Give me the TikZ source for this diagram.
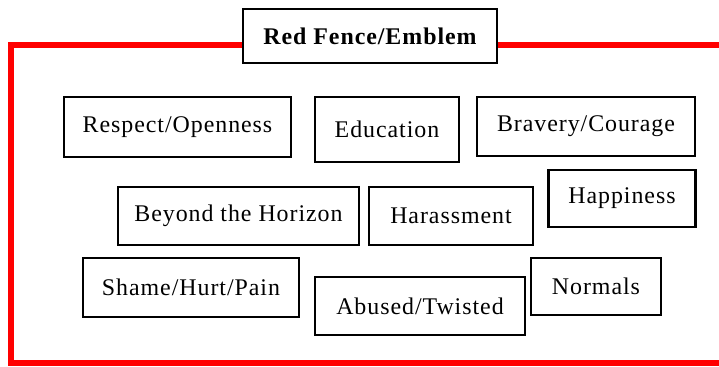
\documentclass[tikz,border=0pt]{standalone}
\usepackage{fontspec}
\setmainfont[LetterSpace=4]{Liberation Serif}
\usepackage{tikz}
\usetikzlibrary{positioning}
\tikzset{%
	tag/.style      = {draw, rectangle, line width=1.8pt, inner sep=0pt, font=\fontsize{17}{20}\selectfont, text centered},
	emblem/.style   = {tag, font=\fontsize{17}{20}\selectfont\bfseries},
	fence/.style    = {draw=red, line width=3.6pt, line join=miter},
}

\begin{document}
\begin{tikzpicture}[x=0.025cm,y=-0.025cm]
	\useasboundingbox (0,0) rectangle (719,367);
	\node [emblem, minimum width=6.35cm, minimum height=1.35cm] (emblem) at (370,36) {Red Fence/Emblem};
	
	\node [tag, minimum width=5.68cm, minimum height=1.5cm] (respect) at (177.5,127) {Respect/Openness};
	\node [tag, minimum width=3.6cm, minimum height=1.62cm] (education) at (387,129.5) {Education};
	\node [tag, minimum width=5.45cm, minimum height=1.48cm] (bravery) at (586,126.5) {Bravery/Courage};
	\node [tag, minimum width=6.02cm, minimum height=1.45cm] (horizon) at (238.5,216) {Beyond the Horizon};
	\node [tag, minimum width=4.1cm, minimum height=1.45cm] (harassment) at (451,216) {Harassment};
	\node [tag, minimum width=3.68cm, minimum height=1.43cm] (happiness) at (622,198.5) {Happiness};
	\node [tag, minimum width=5.4cm, minimum height=1.48cm] (shame) at (191,287.5) {Shame/Hurt/Pain};
	\node [tag, minimum width=5.25cm, minimum height=1.45cm] (abused) at (420,306) {Abused/Twisted};
	\node [tag, minimum width=3.25cm, minimum height=1.43cm] (normals) at (596,286.5) {Normals};
	
	% the fence round the tags
	\coordinate (ftl) at (11,45);
	\coordinate (fbl) at (11,363);
	\coordinate (fbr) at (725,363);
	\coordinate (ftr) at (725,45);
	\draw[fence] (emblem.west |- ftl) -- (ftl) -- (fbl) -- (fbr);
	\draw[fence] (emblem.east |- ftr) -- (ftr);
\end{tikzpicture}
\end{document}
